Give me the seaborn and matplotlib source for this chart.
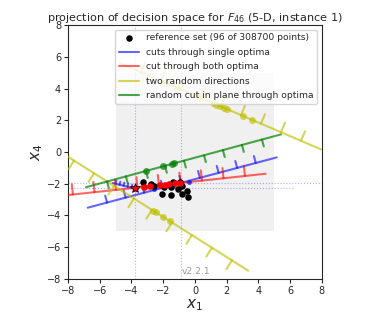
import numpy as np
import pandas as pd
import seaborn as sns
import matplotlib.pyplot as plt

sns.set_style("ticks")
plt.rcParams['font.family'] = ['DejaVu Sans']

# reference set (Pareto set approximation, shown part)
ref_x = [-3.29, -2.79, -2.55, -2.10, -1.93, -1.51, -1.53, -1.40, -1.05, -0.94, -0.84, -0.80, -0.49, -0.42]
ref_y = [-1.91, -2.03, -2.12, -2.65, -2.22, -2.22, -2.71, -1.87, -2.30, -1.91, -2.14, -2.65, -2.46, -2.82]

# single-objective optima
opt_x = [-3.80, -0.85]
opt_y = [-2.27, -1.95]

# cuts: end points, tick positions (x), dots on the cut (x)
blue1_x, blue1_y = [-6.76, 5.15], [-3.51, -0.34]
blue1_ticks = [-5.54, -4.37, -3.20, -2.03, -0.86, 0.31, 1.49, 2.66, 3.83]
blue1_dots = [-0.85]

blue2_x, blue2_y = [-5.20, -3.60], [-1.95, -2.35]
blue2_ticks = [-5.0, -4.75, -4.5, -4.25, -4.0, -3.75]
blue2_dots = [-3.80]
blue_pts_x = [-2.60, -2.00, -1.40, -0.90, -0.40]
blue_pts_y = [-2.30, -2.22, -2.12, -2.02, -1.86]

red_x, red_y = [-8.0, 4.45], [-2.71, -1.37]
red_ticks = [-7.69, -6.33, -4.98, -3.62, -2.27, -0.91, 0.44, 1.80, 3.15]
red_dots = [-3.20, -2.83, -2.20, -1.90, -1.62, -1.25, -0.94]

yel1_x, yel1_y = [-4.72, 7.94], [5.59, 0.17]
yel1_ticks = [-3.40, -2.14, -0.88, 0.38, 1.64, 2.90, 4.16, 5.42, 6.68]
yel1_dots = [-1.89, -1.13, 0.25, 1.13, 1.35, 1.57, 1.80, 2.02, 3.00, 3.60]

yel2_x, yel2_y = [-8.0, 3.36], [-0.30, -7.48]
yel2_ticks = [-7.62, -6.36, -5.10, -3.84, -2.71, -1.45, -0.19, 1.07, 2.33]
yel2_dots = [-2.63, -2.46, -2.00, -1.57]

grn_x, grn_y = [-6.87, 5.42], [-2.22, 1.11]
grn_ticks = [-5.54, -4.35, -3.09, -1.89, -0.69, 0.57, 1.76, 2.96, 4.22]
grn_dots = [-3.10, -2.00, -1.47, -1.30]

fig = plt.figure(figsize=(3.83, 3.21), dpi=100)
ax = fig.add_axes([0.1775, 0.1308, 0.663, 0.7913])

# search region box
ax.fill_between([-5, 5], -5, 5, color='#f0f0f0', lw=0, zorder=0)

for v in opt_x:
    ax.axvline(v, color='b', alpha=0.3, ls=':', lw=0.8, zorder=1)
ax.axhline(opt_y[1], color='b', alpha=0.3, ls=':', lw=0.8, zorder=1)
ax.axhline(opt_y[0], xmax=0.89, color='b', alpha=0.3, ls=':', lw=0.8, zorder=1)


def draw_cut(xs, ys, ticks, dots, side, length, color, alpha, label=None, ms=5):
    sns.lineplot(x=xs, y=ys, sort=False, estimator=None, color=color,
                 alpha=alpha, lw=1.5, label=label, ax=ax, zorder=3)
    dx, dy = xs[1] - xs[0], ys[1] - ys[0]
    n = np.array([-dy, dx]) / np.hypot(dx, dy) * side * length
    tx = np.array(ticks)
    ty = np.interp(tx, xs, ys)
    segx = np.column_stack([tx, tx + n[0], np.full_like(tx, np.nan)]).ravel()
    segy = np.column_stack([ty, ty + n[1], np.full_like(ty, np.nan)]).ravel()
    ax.plot(segx, segy, color=color, alpha=alpha, lw=1.5, zorder=3)
    if dots:
        ddx = np.array(dots)
        ax.plot(ddx, np.interp(ddx, xs, ys), 'o', color=color, alpha=alpha,
                ms=ms, mew=0, zorder=4)


sns.scatterplot(x=ref_x, y=ref_y, color='k', s=22, linewidth=0, zorder=5,
                ax=ax, label='reference set (96 of 308700 points)')
draw_cut(blue1_x, blue1_y, blue1_ticks, blue1_dots, 1, 0.45, 'b', 0.6,
         'cuts through single optima', ms=4)
draw_cut(blue2_x, blue2_y, blue2_ticks, blue2_dots, 1, 0.2, 'b', 0.6, ms=4)
ax.plot(blue_pts_x, blue_pts_y, 'o', color='b', alpha=0.7, ms=3.5, mew=0, zorder=4)
draw_cut(red_x, red_y, red_ticks, red_dots, 1, 0.65, 'r', 0.6,
         'cut through both optima', ms=5)
ax.plot(red_dots, np.interp(red_dots, red_x, red_y), 'o', color='r', ms=4.5,
        mew=0, zorder=6)
draw_cut(yel1_x, yel1_y, yel1_ticks, yel1_dots, 1, 0.65, 'y', 0.65,
         'two random directions', ms=5)
draw_cut(yel2_x, yel2_y, yel2_ticks, yel2_dots, -1, 0.65, 'y', 0.65, ms=5)
draw_cut(grn_x, grn_y, grn_ticks, grn_dots, -1, 0.45, 'g', 0.7,
         'random cut in plane through optima', ms=5)
ax.plot(opt_x[0], opt_y[0], '*', color='r', mec='k', mew=0.5, ms=7, zorder=7)

ax.set_xlim(-8, 8)
ax.set_ylim(-8, 8)
ax.set_aspect('equal')
ax.set_xticks(range(-8, 9, 2))
ax.set_yticks(range(-8, 9, 2))
ax.tick_params(labelsize=7, length=3, pad=2)
ax.set_xlabel('$x_1$', fontsize=11, labelpad=1)
ax.set_ylabel('$x_4$', fontsize=11, labelpad=1)
ax.set_title('projection of decision space for $F_{46}$ (5-D, instance 1)',
             fontsize=8.1, pad=2)
ax.text(0.448, 0.02, 'v2.2.1', transform=ax.transAxes, color='0.6', fontsize=6.6)

leg = ax.legend(loc='upper right', fontsize=6.6, framealpha=0.8, handlelength=2.2,
                borderaxespad=0.5, labelspacing=0.6)
leg.set_zorder(10)

fig.savefig('out.png', dpi=100)
